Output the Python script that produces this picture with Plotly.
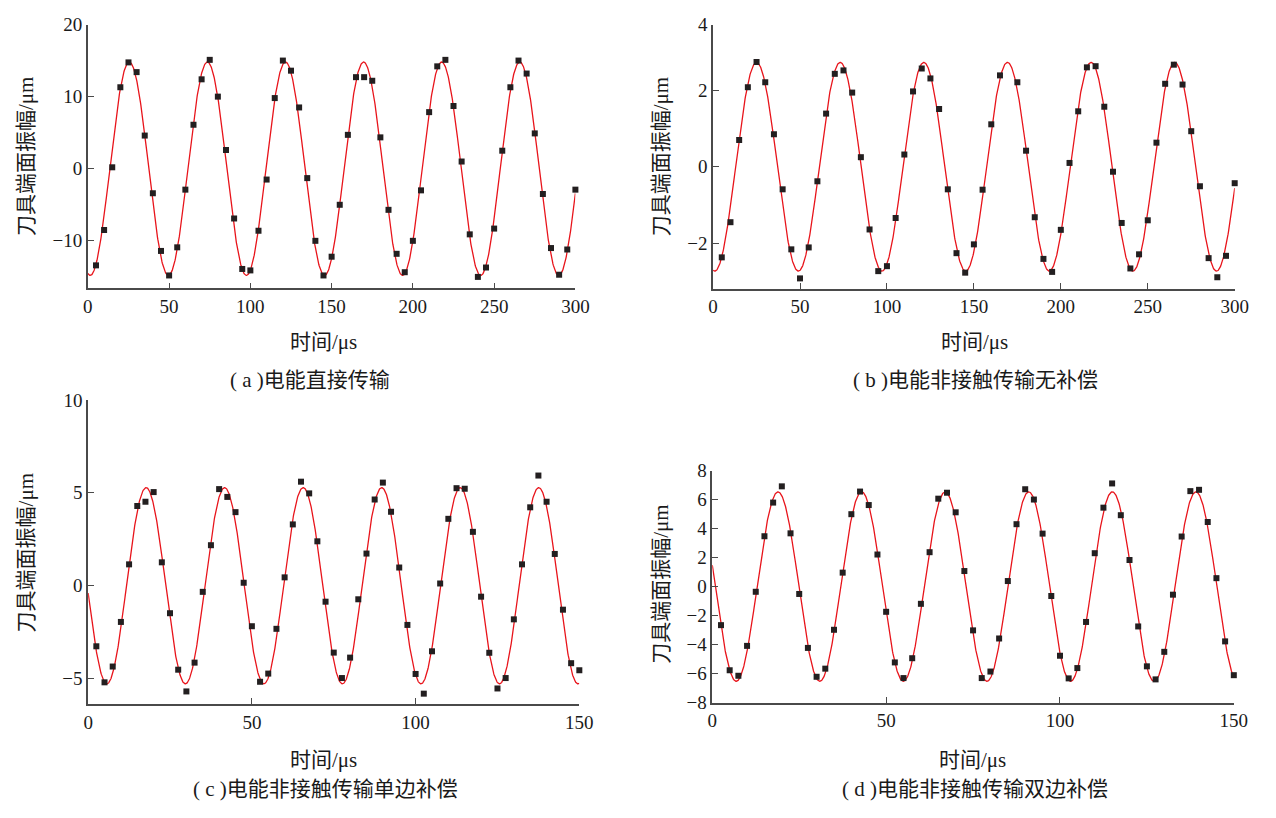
import numpy as np
import plotly.graph_objects as go

# page is 1276x818; the browser's default 8px body margin surrounds the figure
PAGE_W, PAGE_H = 1276, 818
OFF = 8
W, H = PAGE_W - 2 * OFF, PAGE_H - 2 * OFF

# ---------------- data ----------------
# (a) direct transmission: samples every 5 us
t_a = [5, 10, 15, 20, 25, 30, 35, 40, 45, 50, 55, 60, 65, 70, 75, 80, 85, 90, 95, 100,
       105, 110, 115, 120, 125, 130, 135, 140, 145, 150, 155, 160, 165, 170, 175, 180, 185, 190, 195, 200,
       205, 210, 215, 220, 225, 230, 235, 240, 245, 250, 255, 260, 265, 270, 275, 280, 285, 290, 295, 300]
v_a = [-13.4, -8.5, 0.2, 11.3, 14.75, 13.4, 4.6, -3.4, -11.4, -14.8,
       -10.9, -2.9, 6.1, 12.4, 15.1, 10.0, 2.6, -6.9, -13.9, -14.1,
       -8.6, -1.5, 9.8, 15.0, 13.6, 8.5, -1.3, -10.0, -14.8, -12.2,
       -5.0, 4.7, 12.7, 12.7, 12.2, 4.35, -5.7, -11.8, -14.35, -10.0,
       -3.0, 7.85, 14.2, 15.1, 8.7, 1.0, -9.1, -15.0, -13.7, -8.3,
       2.5, 11.3, 15.0, 13.2, 4.9, -3.5, -11.0, -14.7, -11.2, -2.9]

# (b) contactless, no compensation (no sample visible at 170 us)
t_b = [5, 10, 15, 20, 25, 30, 35, 40, 45, 50, 55, 60, 65, 70, 75, 80, 85, 90, 95, 100,
       105, 110, 115, 120, 125, 130, 135, 140, 145, 150, 155, 160, 165, 175, 180, 185, 190, 195, 200,
       205, 210, 215, 220, 225, 230, 235, 240, 245, 250, 255, 260, 265, 270, 275, 280, 285, 290, 295, 300]
v_b = [-2.37, -1.45, 0.70, 2.08, 2.74, 2.21, 0.85, -0.59, -2.16, -2.92,
       -2.11, -0.38, 1.39, 2.43, 2.52, 1.94, 0.25, -1.64, -2.73, -2.60,
       -1.34, 0.32, 1.97, 2.57, 2.31, 1.51, -0.59, -2.26, -2.77, -2.03,
       -0.60, 1.11, 2.39, 2.21, 0.42, -1.32, -2.41, -2.75, -1.65,
       0.10, 1.45, 2.60, 2.63, 1.57, -0.13, -1.47, -2.66, -2.29, -1.40,
       0.63, 2.17, 2.67, 2.15, 0.93, -0.51, -2.39, -2.89, -2.33, -0.43]

# (c) contactless, one-side compensation: samples every 2.5 us
t_c = [2.5, 5, 7.5, 10, 12.5, 15, 17.5, 20, 22.5, 25, 27.5, 30, 32.5, 35, 37.5, 40, 42.5, 45, 47.5, 50,
       52.5, 55, 57.5, 60, 62.5, 65, 67.5, 70, 72.5, 75, 77.5, 80, 82.5, 85, 87.5, 90, 92.5, 95, 97.5, 100,
       102.5, 105, 107.5, 110, 112.5, 115, 117.5, 120, 122.5, 125, 127.5, 130, 132.5, 135, 137.5, 140,
       142.5, 145, 147.5, 150]
v_c = [-3.26, -5.2, -4.35, -1.95, 1.15, 4.29, 4.52, 5.04, 1.26, -1.48,
       -4.52, -5.69, -4.14, -0.33, 2.18, 5.20, 4.78, 3.96, 0.16, -2.18,
       -5.17, -4.73, -2.32, 0.45, 3.30, 5.60, 4.97, 2.39, -0.86, -3.60,
       -4.97, -3.87, -0.73, 1.73, 4.64, 5.55, 3.98, 0.98, -2.11, -4.75,
       -5.81, -3.53, 0.12, 3.60, 5.25, 5.22, 2.90, -0.59, -3.61, -5.53,
       -4.97, -1.81, 1.15, 4.22, 5.93, 4.52, 1.71, -1.29, -4.17, -4.55]

# (d) contactless, two-side compensation
t_d = t_c
v_d = [-2.66, -5.77, -6.15, -4.09, -0.36, 3.47, 5.79, 6.91, 3.67, -0.51,
       -4.23, -6.22, -5.66, -2.98, 0.96, 4.99, 6.55, 5.62, 2.21, -1.74,
       -5.23, -6.31, -4.94, -1.19, 2.37, 6.06, 6.47, 5.12, 1.07, -3.02,
       -6.31, -5.86, -3.58, 0.38, 4.30, 6.71, 6.00, 3.65, -0.65, -4.77,
       -6.33, -5.62, -2.44, 2.30, 5.44, 7.11, 4.92, 1.83, -2.75, -5.50,
       -6.40, -4.50, -0.56, 3.45, 6.58, 6.67, 4.45, 0.58, -3.78, -6.11]

# fitted sine parameters: amplitude, period (us), time of first peak (us)
fit_a = (14.8, 48.05, 25.5)
fit_b = (2.73, 48.1, 25.0)
fit_c = (5.28, 23.98, 17.7)
fit_d = (6.53, 24.04, 18.9)

x_end = [300, 300, 150, 150]

x_ticks_long = [0, 50, 100, 150, 200, 250, 300]
x_ticks_short = [0, 50, 100, 150]
y_ticks_a = [-10, 0, 10, 20]
y_ticks_b = [-2, 0, 2, 3.72]
y_text_b = ["\u22122", "0", "2", "4"]
y_ticks_c = [-5, 0, 5, 10]
y_ticks_d = [-8, -6, -4, -2, 0, 2, 4, 6, 8]

captions = ["( a )电能直接传输", "( b )电能非接触传输无补偿",
            "( c )电能非接触传输单边补偿", "( d )电能非接触传输双边补偿"]
x_title = "时间/μs"
y_title = "刀具端面振幅/μm"

# ---------------- layout (page pixel geometry) ----------------
# plot-area boxes in page pixels: (left, right, top, bottom)
boxes = [(84, 579, 14.7, 285.7), (718.8, 1248.4, 14.7, 286),
         (84.3, 583, 400.2, 712.7), (718, 1247.5, 472.7, 711)]
y_ranges = [(-16.6, 20), (-3.19, 3.72), (-6.38, 10), (-8, 8)]


def fx(p):
    return (p - OFF) / W


def fy(p):
    return 1 - (p - OFF) / H


SERIF = "Liberation Serif, Times New Roman, Noto Sans CJK SC, serif"
CJK = "Liberation Serif, Noto Sans CJK SC, serif"
RED = "#e8141b"
AX = "#4a4a4a"
TXT = "#1a1a1a"

fig = go.Figure()
datasets = [(t_a, v_a, fit_a), (t_b, v_b, fit_b), (t_c, v_c, fit_c), (t_d, v_d, fit_d)]
for i, ((tt, vv, (A, T, tp)), xe) in enumerate(zip(datasets, x_end)):
    n = "" if i == 0 else str(i + 1)
    tf = np.linspace(0, xe, 1500)
    yf = A * np.cos(2 * np.pi * (tf - tp) / T)
    fig.add_trace(go.Scatter(x=tf, y=yf, mode="lines", line=dict(color=RED, width=1.3),
                             xaxis="x" + n, yaxis="y" + n, showlegend=False, hoverinfo="skip"))
    fig.add_trace(go.Scatter(x=tt, y=vv, mode="markers",
                             marker=dict(symbol="square", size=6, color="#231f20", line=dict(width=0)),
                             xaxis="x" + n, yaxis="y" + n, showlegend=False, cliponaxis=False))

ytick_sets = [(y_ticks_a, None), (y_ticks_b, y_text_b), (y_ticks_c, None), (y_ticks_d, None)]
xtick_sets = [x_ticks_long, x_ticks_long, x_ticks_short, x_ticks_short]

layout = dict(width=W, height=H, margin=dict(l=0, r=0, t=0, b=0),
              paper_bgcolor="white", plot_bgcolor="white", showlegend=False)
for i, (box, yr) in enumerate(zip(boxes, y_ranges)):
    n = "" if i == 0 else str(i + 1)
    l, r, t, b = box
    xa = dict(domain=[fx(l), fx(r)], range=[0, x_end[i]], anchor="y" + n, showgrid=False,
              zeroline=False, showline=True, linecolor=AX, linewidth=1.6, ticks="inside",
              ticklen=6, tickwidth=1.2, tickcolor=AX, tickvals=xtick_sets[i],
              tickfont=dict(family=SERIF, size=19, color=TXT))
    yv, yt = ytick_sets[i]
    ya = dict(domain=[fy(b), fy(t)], range=list(yr), anchor="x" + n, showgrid=False,
              zeroline=False, showline=True, linecolor=AX, linewidth=1.6, ticks="inside",
              ticklen=6, tickwidth=1.2, tickcolor=AX, tickvals=yv,
              tickfont=dict(family=SERIF, size=19, color=TXT))
    if yt is not None:
        ya["ticktext"] = yt
    layout["xaxis" + n] = xa
    layout["yaxis" + n] = ya

# annotation positions in page pixels
ytitle_pos = [(21, 150), (666, 151), (21, 557), (666, 590)]
xtitle_pos = [(323, 341), (984, 341), (323, 770), (982, 770)]
caption_pos = [(310, 380), (985, 380), (325, 800), (985, 800)]
ann = []
for i in range(4):
    px, py = ytitle_pos[i]
    ann.append(dict(x=fx(px), y=fy(py), xref="paper", yref="paper", text=y_title, textangle=-90,
                    showarrow=False, font=dict(family=CJK, size=21, color=TXT),
                    xanchor="center", yanchor="middle"))
    px, py = xtitle_pos[i]
    ann.append(dict(x=fx(px), y=fy(py), xref="paper", yref="paper", text=x_title,
                    showarrow=False, font=dict(family=CJK, size=21, color=TXT),
                    xanchor="center", yanchor="middle"))
    px, py = caption_pos[i]
    ann.append(dict(x=fx(px), y=fy(py), xref="paper", yref="paper", text=captions[i],
                    showarrow=False, font=dict(family=CJK, size=21, color=TXT),
                    xanchor="center", yanchor="middle"))
layout["annotations"] = ann
fig.update_layout(**layout)

fig.write_html("out.html", config={"displayModeBar": False})
